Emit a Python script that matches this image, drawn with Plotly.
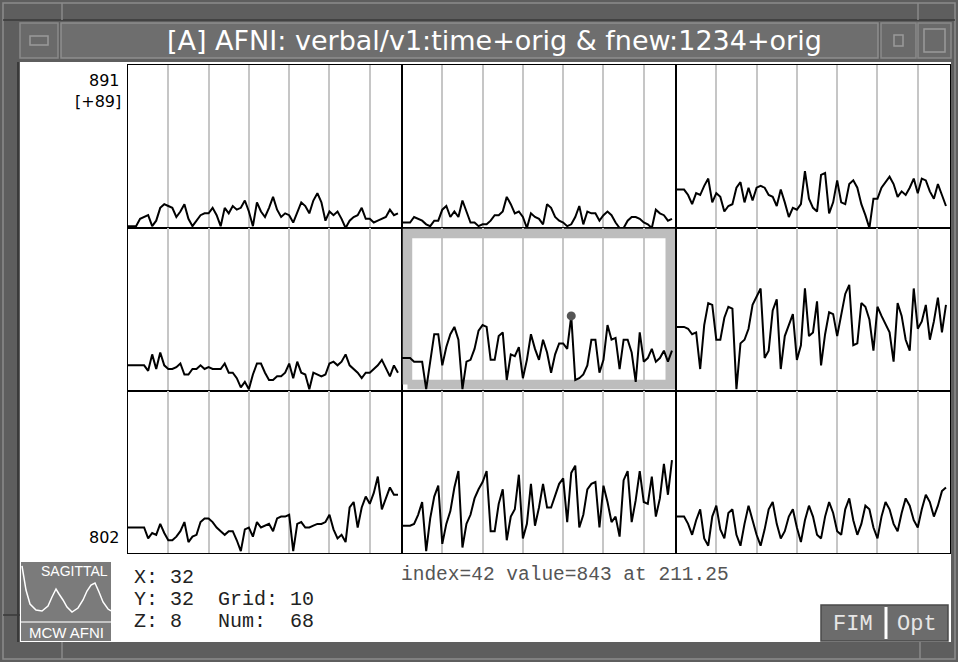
import plotly.graph_objects as go
from plotly.subplots import make_subplots

# ---------------- data ----------------
time_index = list(range(68))
y_bottom = 802
y_top = 891
y_range_label = "[+89]"
grid_every = 10

p1 = [803, 803, 803, 807, 808, 809, 803, 806, 813, 815,
      814, 813, 808, 811, 815, 807, 803, 806, 809, 810,
      810, 813, 809, 803, 813, 810, 814, 812, 813, 817,
      811, 803, 816, 811, 808, 813, 819, 812, 808, 810,
      809, 805, 810, 816, 814, 810, 817, 821, 816, 806,
      811, 809, 811, 807, 802, 806, 808, 809, 813, 807,
      807, 805, 806, 807, 808, 812, 809, 810]
p2 = [805, 805, 805, 808, 807, 806, 804, 803, 806, 806,
      812, 814, 808, 811, 808, 817, 811, 805, 805, 803,
      804, 804, 806, 809, 809, 811, 819, 815, 810, 811,
      808, 802, 810, 808, 807, 804, 815, 813, 808, 806,
      805, 803, 804, 808, 814, 804, 811, 810, 810, 806,
      809, 811, 809, 805, 802, 802, 806, 808, 808, 807,
      805, 804, 802, 812, 810, 809, 806, 807]
p3 = [823, 823, 823, 820, 815, 821, 820, 825, 829, 816,
      821, 819, 811, 814, 815, 824, 827, 816, 824, 817,
      824, 825, 824, 820, 819, 814, 823, 816, 808, 813,
      812, 815, 833, 818, 813, 811, 831, 832, 810, 816,
      828, 816, 815, 826, 828, 824, 815, 809, 802, 818,
      818, 824, 827, 830, 826, 819, 822, 820, 824, 829,
      821, 829, 828, 822, 818, 826, 820, 814]
p4 = [816, 816, 816, 816, 816, 813, 822, 814, 823, 816,
      814, 814, 815, 817, 811, 811, 814, 814, 816, 814,
      815, 814, 814, 814, 817, 812, 812, 809, 804, 807,
      803, 811, 817, 817, 812, 808, 808, 810, 810, 812,
      817, 809, 818, 812, 811, 803, 812, 811, 810, 811,
      817, 818, 816, 818, 822, 816, 814, 812, 809, 812,
      812, 814, 816, 819, 814, 810, 816, 812]
p5 = [820, 820, 820, 818, 818, 818, 803, 819, 833, 833,
      816, 826, 833, 837, 830, 803, 818, 819, 825, 835,
      838, 837, 819, 819, 832, 834, 808, 822, 821, 826,
      809, 819, 833, 825, 819, 830, 823, 812, 822, 828,
      828, 825, 843, 808, 809, 811, 816, 830, 830, 812,
      819, 838, 830, 831, 814, 830, 830, 823, 807, 834,
      818, 820, 825, 818, 820, 824, 818, 824]
p6 = [837, 837, 837, 836, 833, 834, 814, 838, 850, 849,
      830, 830, 842, 848, 847, 803, 828, 830, 836, 849,
      854, 858, 820, 824, 846, 852, 814, 832, 838, 844,
      819, 827, 858, 832, 834, 851, 816, 833, 845, 844,
      832, 843, 855, 860, 827, 828, 850, 848, 841, 824,
      848, 843, 838, 834, 818, 850, 843, 830, 824, 858,
      836, 840, 849, 830, 840, 853, 834, 849]
p7 = [816, 816, 816, 816, 816, 810, 813, 812, 818, 813,
      809, 809, 811, 814, 819, 808, 811, 812, 819, 821,
      821, 819, 816, 814, 812, 814, 814, 809, 803, 815,
      816, 811, 819, 816, 817, 818, 814, 821, 822, 822,
      823, 803, 818, 819, 816, 816, 817, 818, 818, 819,
      823, 815, 810, 812, 808, 827, 830, 816, 827, 833,
      829, 835, 844, 826, 832, 838, 834, 834]
p8 = [817, 817, 817, 818, 823, 830, 803, 821, 833, 839,
      807, 818, 825, 838, 847, 805, 818, 823, 832, 837,
      841, 847, 814, 814, 829, 837, 809, 822, 826, 845,
      810, 818, 840, 817, 827, 840, 827, 827, 834, 840,
      843, 819, 846, 850, 816, 823, 837, 840, 841, 816,
      839, 830, 819, 822, 811, 842, 847, 819, 831, 847,
      830, 829, 844, 822, 832, 851, 834, 853]
p9 = [822, 822, 822, 818, 812, 820, 826, 810, 806, 822,
      828, 815, 810, 824, 826, 812, 806, 818, 828, 820,
      812, 806, 815, 826, 830, 818, 810, 814, 822, 826,
      816, 808, 820, 828, 822, 812, 810, 822, 830, 824,
      814, 812, 826, 832, 820, 812, 818, 828, 826, 816,
      810, 822, 830, 826, 818, 814, 824, 832, 828, 820,
      816, 826, 834, 830, 822, 828, 836, 838]
series = [p1, p2, p3, p4, p5, p6, p7, p8, p9]
center_panel = 5
cursor_index = 42

title_text = "[A] AFNI: verbal/v1:time+orig & fnew:1234+orig"
info_lines = ["X: 32", "Y: 32  Grid: 10", "Z: 8   Num:  68"]
status_text = "index=42 value=843 at 211.25"

# ---------------- layout helpers (pixel -> paper) ----------------
W, H = 958, 662
def X(px): return px / W
def Y(py): return 1 - py / H

shapes = []
annotations = []

def rect(x0, y0, x1, y1, fill=None, line=None, lw=0, layer="below"):
    shapes.append(dict(type="rect", xref="paper", yref="paper",
                       x0=X(x0), x1=X(x1), y0=Y(y1), y1=Y(y0),
                       fillcolor=fill if fill else "rgba(0,0,0,0)",
                       line=dict(color=line if line else "rgba(0,0,0,0)", width=lw),
                       layer=layer))

def hline(x0, x1, y, color, lw=1, layer="below"):
    shapes.append(dict(type="line", xref="paper", yref="paper",
                       x0=X(x0), x1=X(x1), y0=Y(y), y1=Y(y),
                       line=dict(color=color, width=lw), layer=layer))

def vline(x, y0, y1, color, lw=1, layer="below"):
    shapes.append(dict(type="line", xref="paper", yref="paper",
                       x0=X(x), x1=X(x), y0=Y(y0), y1=Y(y1),
                       line=dict(color=color, width=lw), layer=layer))

def text(x, y, s, size, color="black", family="DejaVu Sans", xanchor="left"):
    annotations.append(dict(x=X(x), y=Y(y), xref="paper", yref="paper", text=s,
                            showarrow=False, xanchor=xanchor, yanchor="middle",
                            font=dict(size=size, color=color, family=family)))

# ---------------- subplots ----------------
cols = [(128, 402), (402, 676), (676, 950)]
rows = [(65, 228), (228, 391), (391, 553)]

fig = make_subplots(rows=3, cols=3)

# gray highlight frame of the centre panel, drawn as the first trace there
fx0, fx1 = 0.020 * 68, 0.979 * 68
fy0 = y_bottom + 0.040 * (y_top - y_bottom)
fy1 = y_bottom + 0.967 * (y_top - y_bottom)
fig.add_trace(go.Scatter(x=[fx0, fx1, fx1, fx0, fx0], y=[fy0, fy0, fy1, fy1, fy0],
                         mode="lines", line=dict(color="#bdbdbd", width=9.5),
                         hoverinfo="skip", showlegend=False), row=2, col=2)

for k, vals in enumerate(series):
    r, c = divmod(k, 3)
    fig.add_trace(go.Scatter(x=time_index, y=vals, mode="lines",
                             line=dict(color="black", width=2),
                             hoverinfo="skip", showlegend=False),
                  row=r + 1, col=c + 1)
    ax = "" if k == 0 else str(k + 1)
    (cx0, cx1), (ry0, ry1) = cols[c], rows[r]
    fig.layout["xaxis" + ax].update(
        domain=[X(cx0), X(cx1)], range=[0, 68],
        tickvals=list(range(grid_every, 68, grid_every)),
        showticklabels=False, ticks="", showgrid=True,
        gridcolor="#c6c6c6", gridwidth=1.5, zeroline=False,
        showline=True, mirror=True, linecolor="black", linewidth=1.3)
    fig.layout["yaxis" + ax].update(
        domain=[Y(ry1), Y(ry0)], range=[y_bottom, y_top],
        showticklabels=False, ticks="", showgrid=False, zeroline=False,
        showline=True, mirror=True, linecolor="black", linewidth=1.3)

# cursor marker on the centre panel
cvals = series[center_panel - 1]
fig.add_trace(go.Scatter(x=[cursor_index], y=[cvals[cursor_index]], mode="markers",
                         marker=dict(color="#555555", size=9),
                         hoverinfo="skip", showlegend=False),
              row=2, col=2)

# ---------------- window chrome ----------------
FRAME = "#5e5e5e"
rect(20, 62, 951, 642, fill="white")                     # content area
rect(3, 3, 955, 659, line="#8c8c8c", lw=1.5)
hline(3, 955, 20, "#3a3a3a", 1.5)
vline(62, 3, 20, "#8a8a8a", 1.5)
vline(918, 3, 20, "#8a8a8a", 1.5)
rect(20, 23, 58, 58, fill="#6a6a6a", line="#8a8a8a", lw=1.5)
rect(30, 36, 48, 45, fill="#6a6a6a", line="#9a9a9a", lw=1.5)
rect(61, 23, 878, 58, fill="#6e6e6e", line="#8e8e8e", lw=1.5)
rect(881, 23, 916, 58, fill="#6a6a6a", line="#8a8a8a", lw=1.5)
rect(894, 35, 903, 46, fill="#6a6a6a", line="#9a9a9a", lw=1.5)
rect(918, 23, 951, 58, fill="#6a6a6a", line="#8a8a8a", lw=1.5)
rect(924, 29, 945, 52, fill="#6a6a6a", line="#9a9a9a", lw=1.5)
text(494, 40, title_text, 27, color="white", family="DejaVu Sans", xanchor="center")
hline(3, 20, 615, "#3a3a3a", 1.5)
vline(62, 642, 659, "#8a8a8a", 1.5)
vline(920, 642, 659, "#8a8a8a", 1.5)
vline(18, 62, 642, "#3a3a3a", 2)

# ---------------- scale labels ----------------
text(122, 80, str(y_top), 16, xanchor="right")
text(123, 102, y_range_label, 16, xanchor="right")
text(122, 537, str(y_bottom), 16, xanchor="right")

# ---------------- logo box ----------------
rect(21, 562, 111, 641, fill="#7b7b7b")
text(74, 571, "SAGITTAL", 14, color="white", family="Liberation Sans", xanchor="center")
hline(21, 111, 622, "#dcdcdc", 1.5)
text(66, 632, "MCW AFNI", 15, color="white", family="Liberation Sans", xanchor="center")
icon = [(22, 566), (26, 590), (30, 604), (36, 610), (42, 611), (48, 606), (52, 597),
        (56, 589), (59, 594), (63, 600), (67, 607), (72, 612), (78, 608), (83, 600),
        (87, 591), (91, 585), (95, 583), (99, 592), (103, 602), (108, 609), (111, 611)]
path = "M " + " L ".join(f"{X(a):.5f},{Y(b):.5f}" for a, b in icon)
shapes.append(dict(type="path", xref="paper", yref="paper", path=path,
                   line=dict(color="white", width=1.5), layer="above"))

# ---------------- info text ----------------
MONO = "Liberation Mono, Courier New, monospace"
for i, s in enumerate(info_lines):
    annotations.append(dict(x=X(132), y=Y(577 + 22 * i), xref="paper", yref="paper",
                            text=s.replace(" ", "&nbsp;"), showarrow=False,
                            xanchor="left", yanchor="middle",
                            font=dict(size=20, color="#222222", family=MONO)))
text(399, 575, status_text.replace(" ", "&nbsp;"), 19.5, color="#555555", family=MONO)

# ---------------- FIM / Opt buttons ----------------
rect(821, 605, 948, 641, fill="#6c6c6c", line="#4a4a4a", lw=1.5)
vline(886, 607, 639, "white", 3)
text(853, 624, "FIM", 22, color="#e6e6e6", family=MONO, xanchor="center")
text(917, 624, "Opt", 22, color="#e6e6e6", family=MONO, xanchor="center")

fig.update_layout(width=W, height=H, margin=dict(l=0, r=0, t=0, b=0),
                  paper_bgcolor=FRAME, plot_bgcolor="white",
                  shapes=shapes, annotations=annotations, showlegend=False)

fig.write_html("out.html", config={"displayModeBar": False},
               post_script="document.body.style.margin='0';document.body.style.overflow='hidden';")
